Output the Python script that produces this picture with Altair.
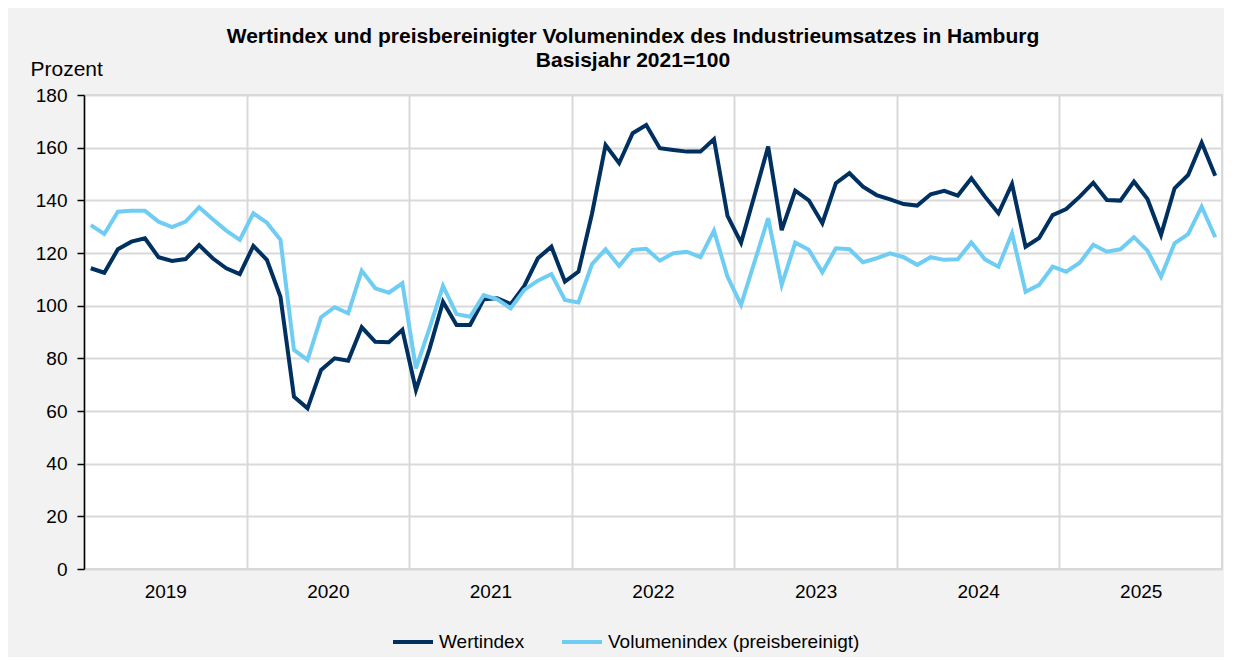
import altair as alt
import pandas as pd

years = [2019, 2020, 2021, 2022, 2023, 2024, 2025]

wertindex = [
    114.2, 112.5, 121.4, 124.3, 125.6, 118.4, 117.0, 117.7, 123.0, 118.0, 114.2, 112.0,
    122.7, 117.4, 103.4, 65.4, 61.0, 75.6, 80.0, 79.1, 91.8, 86.3, 86.1, 90.8,
    68.0, 83.5, 101.5, 92.7, 92.7, 102.4, 102.8, 100.6, 107.5, 118.0, 122.4, 109.1,
    112.9, 135.0, 161.0, 154.1, 165.5, 168.6, 159.8, 159.1, 158.5, 158.5, 163.2, 134.1,
    123.9, 142.0, 160.4, 128.7, 143.7, 140.0, 131.3, 146.5, 150.3, 145.2, 142.0, 140.4,
    138.6, 138.0, 142.3, 143.6, 141.8, 148.4, 141.4, 135.1, 146.2, 122.4, 125.7, 134.4,
    136.7, 141.4, 146.7, 140.1, 139.9, 147.1, 140.5, 126.9, 144.6, 149.6, 161.9, 149.3,
]

volumenindex = [
    130.6, 127.2, 135.7, 136.0, 136.0, 131.9, 129.8, 131.9, 137.4, 132.8, 128.5, 125.0,
    135.1, 131.5, 125.0, 83.2, 79.4, 95.6, 99.4, 97.1, 113.3, 106.6, 104.9, 108.5,
    76.2, 91.4, 107.5, 96.8, 95.8, 104.0, 102.4, 99.0, 106.0, 109.5, 112.0, 102.2,
    101.2, 115.8, 121.4, 115.1, 121.2, 121.6, 117.1, 119.9, 120.5, 118.4, 128.5, 111.0,
    100.3, 116.7, 133.2, 107.9, 123.9, 121.2, 112.7, 121.8, 121.4, 116.5, 118.0, 119.9,
    118.4, 115.5, 118.4, 117.4, 117.6, 124.0, 117.6, 114.8, 127.5, 105.3, 107.9, 114.8,
    112.9, 116.3, 123.1, 120.5, 121.4, 126.0, 120.9, 111.0, 123.7, 127.2, 137.6, 126.0,
]

series_names = ["Wertindex", "Volumenindex (preisbereinigt)"]
colors = ["#00305f", "#6fcdf4"]
y_ticks = [0, 20, 40, 60, 80, 100, 120, 140, 160, 180]

title_lines = [
    "Wertindex und preisbereinigter Volumenindex des Industrieumsatzes in Hamburg",
    "Basisjahr 2021=100",
]

# month positions: centre of each month within the year
t = [y + (m + 0.5) / 12 for y in years for m in range(12)]

df = pd.DataFrame({
    "t": t + t,
    "wert": wertindex + volumenindex,
    "serie": [series_names[0]] * len(t) + [series_names[1]] * len(t),
    "ord": [0] * len(t) + [1] * len(t),
})

FONT = "Liberation Sans"
PLOT_W = 1138
PLOT_H = 474
half_year_px = PLOT_W / len(years) / 2

chart = alt.Chart(df).mark_line(strokeWidth=4).encode(
    x=alt.X(
        "t:Q",
        scale=alt.Scale(domain=[years[0], years[-1] + 1], nice=False, zero=False),
        axis=alt.Axis(
            values=years,
            format="d",
            title=None,
            grid=True,
            ticks=False,
            domain=False,
            labelOffset=half_year_px,
            labelFlush=False,
            labelOverlap=False,
            labelFontSize=19,
            labelFont=FONT,
            labelColor="#000000",
            labelPadding=13,
            gridColor="#d9d9d9",
            gridWidth=2,
        ),
    ),
    y=alt.Y(
        "wert:Q",
        scale=alt.Scale(domain=[0, 180], nice=False),
        axis=alt.Axis(
            values=y_ticks,
            title="Prozent",
            titleAngle=0,
            titleAlign="left",
            titleBaseline="alphabetic",
            titleX=-54,
            titleY=-20,
            titleFontSize=21,
            titleFontWeight="normal",
            titleFont=FONT,
            titleColor="#000000",
            domainColor="#000000",
            domainWidth=1.5,
            tickColor="#000000",
            tickSize=7,
            tickWidth=1.5,
            labelPadding=10,
            labelFontSize=19,
            labelFont=FONT,
            labelColor="#000000",
            gridColor="#d9d9d9",
            gridWidth=2,
        ),
    ),
    color=alt.Color(
        "serie:N",
        scale=alt.Scale(domain=series_names, range=colors),
        sort=series_names,
        legend=alt.Legend(
            title=None,
            orient="none",
            legendX=307,
            legendY=525,
            direction="horizontal",
            symbolType="stroke",
            symbolSize=1600,
            symbolStrokeWidth=4,
            labelFontSize=19,
            labelFont=FONT,
            labelColor="#000000",
            labelOffset=4,
            labelLimit=500,
            columnPadding=29,
        ),
    ),
    order=alt.Order("ord:Q"),
).properties(
    width=PLOT_W,
    height=PLOT_H,
    autosize=alt.AutoSizeParams(type="none"),
    padding={"left": 76, "top": 87, "right": 2, "bottom": 88},
    title=alt.TitleParams(
        text=title_lines,
        fontSize=21,
        fontWeight="bold",
        font=FONT,
        color="#000000",
        anchor="middle",
        dx=-20,
        dy=39,
        offset=26,
        lineHeight=24,
    ),
).configure(
    background="#f2f2f2",
).configure_view(
    fill="#ffffff",
    stroke="#d9d9d9",
    strokeWidth=2,
)

chart.save("out.html", embed_options={"renderer": "svg", "actions": False})
